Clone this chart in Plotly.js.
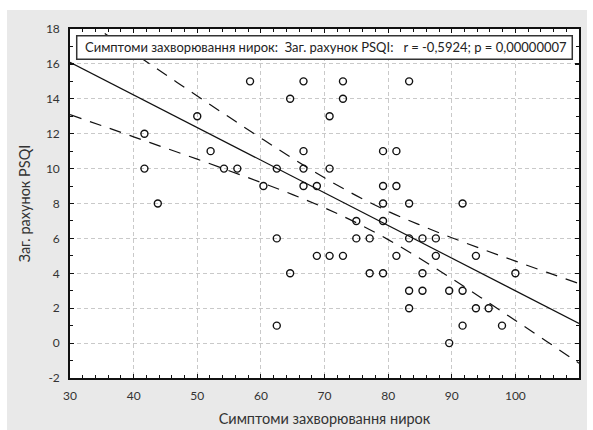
<!DOCTYPE html>
<html>
<head>
<meta charset="utf-8">
<script src="https://cdn.plot.ly/plotly-3.0.1.min.js"></script>
<style>
html,body{margin:0;padding:0;background:#ffffff;}
#chart{position:absolute;left:7px;top:10px;width:580px;height:420px;}
</style>
</head>
<body>
<div id="chart"></div>
<script>
// ---- data ----
const xTitle = 'Симптоми захворювання нирок';
const yTitle = 'Заг. рахунок PSQI';
const statText = 'Симптоми захворювання нирок:\u00a0\u00a0Заг. рахунок PSQI:\u00a0\u00a0\u00a0r = -0,5924; p = 0,00000007';

const symptomScore = [41.7,41.7,43.8,50.0,52.1,54.2,56.3,58.3,60.4,62.5,62.5,62.5,64.6,64.6,66.7,66.7,66.7,66.7,68.8,68.8,
  70.8,70.8,70.8,72.9,72.9,72.9,75.0,75.0,77.1,77.1,79.2,79.2,79.2,79.2,79.2,81.3,81.3,81.3,83.3,83.3,
  83.3,83.3,83.3,85.4,85.4,85.4,87.5,87.5,89.6,89.6,91.7,91.7,91.7,93.8,93.8,95.8,97.9,100.0];
const psqiTotal = [12,10,8,13,11,10,10,15,9,10,6,1,14,4,15,11,10,9,9,5,
  13,10,5,15,14,5,7,6,6,4,11,9,8,7,4,11,9,5,15,8,
  6,3,2,6,4,3,6,5,3,0,8,3,1,5,2,2,1,4];

const fitX = [30, 110];
const fitY = [16.09, 1.13];

const bandX = [30,35,40,45,50,55,60,65,70,75,80,85,90,95,100,105,110];
const bandUpper = [19.09,17.85,16.62,15.39,14.16,12.95,11.75,10.58,9.47,8.45,7.55,6.77,6.04,5.36,4.70,4.05,3.41];
const bandLower = [13.09,12.46,11.82,11.18,10.54,9.88,9.21,8.51,7.75,6.90,5.93,4.85,3.70,2.51,1.30,0.08,-1.15];

const xRange = [30, 110];
const yRange = [-2, 18];
const xTicks = [30,40,50,60,70,80,90,100,110];
const yTicks = [-2,0,2,4,6,8,10,12,14,16,18];

// ---- traces ----
const traces = [
  {x: bandX, y: bandUpper, type:'scatter', mode:'lines', hoverinfo:'skip',
   line:{color:'#111', width:1.2, dash:'12px,9px', shape:'spline'}},
  {x: bandX, y: bandLower, type:'scatter', mode:'lines', hoverinfo:'skip',
   line:{color:'#111', width:1.2, dash:'12px,9px', shape:'spline'}},
  {x: fitX, y: fitY, type:'scatter', mode:'lines', hoverinfo:'skip',
   line:{color:'#111', width:1.2}},
  {x: symptomScore, y: psqiTotal, type:'scatter', mode:'markers',
   marker:{symbol:'circle-open', size:7, color:'#111', line:{width:1.4, color:'#111'}}}
];

const tickFont = {family:'Lato, "Open Sans", sans-serif', size:12, color:'#333'};
const titleFont = {family:'Lato, "Open Sans", sans-serif', size:14.5, color:'#333'};

const layout = {
  width:580, height:420,
  paper_bgcolor:'#e9e9e9', plot_bgcolor:'#ffffff',
  margin:{l:63, r:8, t:19, b:52},
  showlegend:false,
  font: tickFont,
  xaxis:{
    range:xRange, tickmode:'array', tickvals:xTicks, ticktext:xTicks.map(String),
    showline:true, linecolor:'#111', linewidth:1.8, mirror:'ticks',
    ticks:'inside', ticklen:4, tickwidth:1.2, tickcolor:'#111',
    minor:{ticks:'inside', dtick:2, ticklen:3, tickwidth:1, tickcolor:'#111', showgrid:false},
    showgrid:true, gridcolor:'#c9c9c9', gridwidth:1, griddash:'4px,3px',
    zeroline:false, tickfont:tickFont, ticklabelstandoff:6,
    title:{text:xTitle, font:titleFont, standoff:12}
  },
  yaxis:{
    range:yRange, tickmode:'array', tickvals:yTicks, ticktext:yTicks.map(String),
    showline:true, linecolor:'#111', linewidth:1.8, mirror:'ticks',
    ticks:'inside', ticklen:4, tickwidth:1.2, tickcolor:'#111',
    minor:{ticks:'inside', dtick:1, ticklen:3, tickwidth:1, tickcolor:'#111', showgrid:false},
    showgrid:true, gridcolor:'#c9c9c9', gridwidth:1, griddash:'4px,3px',
    zeroline:false, tickfont:tickFont, ticklabelstandoff:6,
    title:{text:yTitle, font:titleFont, standoff:12}
  },
  shapes:[
    {type:'rect', xref:'paper', yref:'paper', x0:0.0132, x1:0.9868, y0:0.9132, y1:0.9808,
     layer:'above', fillcolor:'#ffffff', line:{color:'#333', width:1.5}}
  ],
  annotations:[
    {text:statText, xref:'paper', yref:'paper', x:0.0250, y:0.947, xanchor:'left', yanchor:'middle',
     showarrow:false, font:{family:'Lato, "Open Sans", sans-serif', size:13, color:'#222'}}
  ]
};

Plotly.newPlot('chart', traces, layout, {displayModeBar:false, staticPlot:true});
</script>
</body>
</html>
